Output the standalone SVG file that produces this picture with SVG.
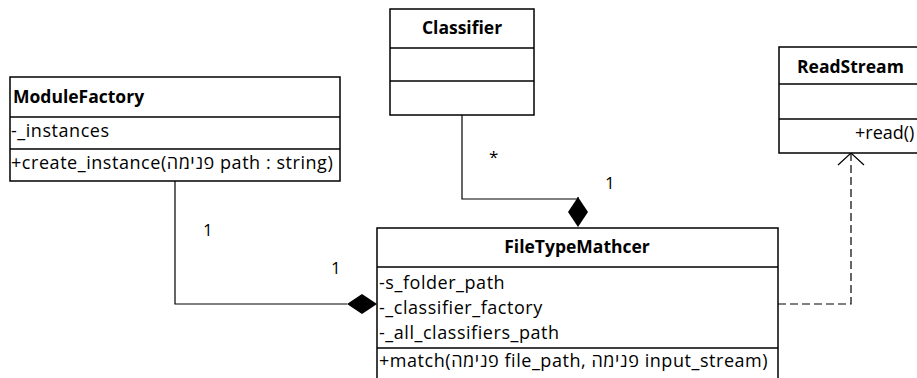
<svg xmlns="http://www.w3.org/2000/svg" width="917" height="378" viewBox="0 0 917 378">
  <defs>
    <style>
      .box { fill: #fff; stroke: #000; stroke-width: 1.5; }
      .sep { stroke: #000; stroke-width: 1.5; }
      .title { font-family: "Open Sans", "Liberation Sans", sans-serif; font-weight: bold; font-size: 17.5px; fill: #000; }
      .member { font-family: "Open Sans", "Liberation Sans", sans-serif; font-size: 18px; letter-spacing: 0.55px; fill: #000; }
      .mult { font-family: "Open Sans", "Liberation Sans", sans-serif; font-size: 17px; fill: #000; }
      .line { fill: none; stroke: #000; stroke-width: 1.2; }
      .dash { fill: none; stroke: #000; stroke-width: 1.2; stroke-dasharray: 8 4; }
    </style>
  </defs>
  <rect width="917" height="378" fill="#fff"/>

  <g id="connectors">
    <!-- ModuleFactory composition into FileTypeMathcer -->
    <polyline class="line" points="175,181 175,304 347,304"/>
    <polygon points="347,304 362,294 377,304 362,314" fill="#000"/>
    <text class="mult" x="203" y="236">1</text>
    <text class="mult" x="331" y="274">1</text>

    <!-- Classifier composition into FileTypeMathcer -->
    <polyline class="line" points="462,115 462,199 578,199 578,197"/>
    <polygon points="578,197 588,212 578,227 568,212" fill="#000"/>
    <text class="mult" x="489" y="163">*</text>
    <text class="mult" x="605" y="189">1</text>

    <!-- dependency on ReadStream -->
    <polyline class="dash" points="778,304 851,304 851,154"/>
    <polyline class="line" points="838,165 851,153 864,165"/>
  </g>

  <g id="ModuleFactory">
    <rect class="box" x="10" y="77" width="330" height="104"/>
    <line class="sep" x1="10" y1="117" x2="340" y2="117"/>
    <line class="sep" x1="10" y1="149" x2="340" y2="149"/>
    <text class="title" x="13" y="103">ModuleFactory</text>
    <text class="member" x="11" y="137">-_instances</text>
    <text class="member" x="11" y="169">+create_instance(פנימה path : string)</text>
  </g>

  <g id="Classifier">
    <rect class="box" x="390" y="9" width="144" height="106"/>
    <line class="sep" x1="390" y1="48" x2="534" y2="48"/>
    <line class="sep" x1="390" y1="81" x2="534" y2="81"/>
    <text class="title" x="462" y="34" text-anchor="middle">Classifier</text>
  </g>

  <g id="ReadStream">
    <rect class="box" x="779" y="47" width="150" height="106"/>
    <line class="sep" x1="779" y1="84" x2="929" y2="84"/>
    <line class="sep" x1="779" y1="119" x2="929" y2="119"/>
    <text class="title" x="797" y="73">ReadStream</text>
    <text class="member" x="855" y="139" style="letter-spacing:0">+read()</text>
  </g>

  <g id="FileTypeMathcer">
    <rect class="box" x="377" y="228" width="401" height="152"/>
    <line class="sep" x1="377" y1="267" x2="778" y2="267"/>
    <line class="sep" x1="377" y1="348" x2="778" y2="348"/>
    <text class="title" x="577" y="253" text-anchor="middle">FileTypeMathcer</text>
    <text class="member" x="379" y="289">-s_folder_path</text>
    <text class="member" x="379" y="314">-_classifier_factory</text>
    <text class="member" x="379" y="339">-_all_classifiers_path</text>
    <text class="member" x="379" y="367">+match(פנימה file_path, פנימה input_stream)</text>
  </g>
</svg>
